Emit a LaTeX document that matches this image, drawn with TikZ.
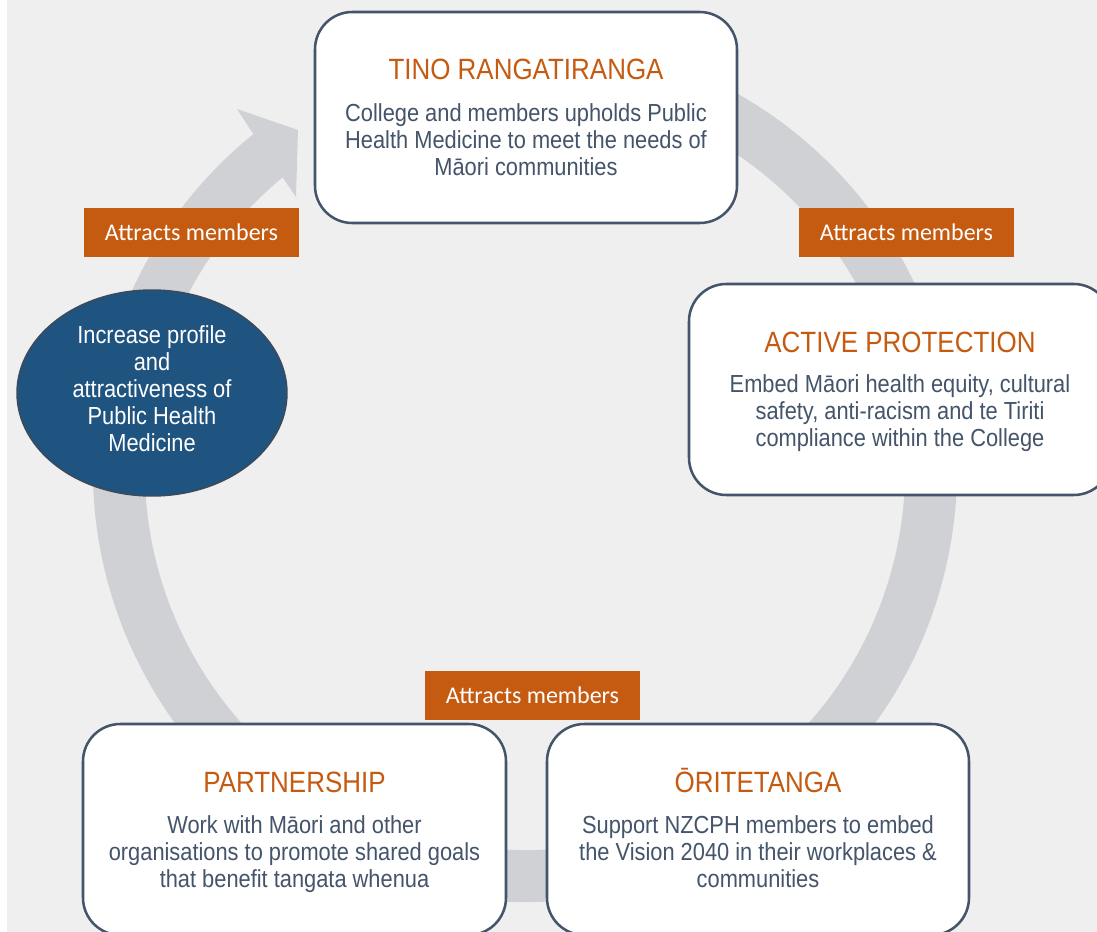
\documentclass[tikz,border=0pt]{standalone}
\usepackage{fontspec}
\setmainfont{Liberation Sans}
\newfontfamily\narrowfont{Liberation Sans}[FakeStretch=0.885]
\newfontfamily\calfont{Carlito}
\usetikzlibrary{shapes.geometric}
\definecolor{bgGray}{HTML}{EFEFEF}
\definecolor{ringGray}{HTML}{D0D1D5}
\definecolor{boxLine}{HTML}{44546A}
\definecolor{txtSlate}{HTML}{44546A}
\definecolor{titleOrange}{HTML}{C55A11}
\definecolor{ovalBlue}{HTML}{1F5380}
\definecolor{ovalLine}{HTML}{3D4A5C}
\begin{document}
\begin{tikzpicture}[x=0.75pt,y=0.75pt,
 panel/.style={draw=boxLine, line width=1.9pt, fill=white, rounded corners=28pt, inner sep=0pt},
 heading/.style={text=titleOrange, font=\narrowfont\fontsize{22}{26}\selectfont, anchor=base, inner sep=0pt},
 bodytext/.style={text=txtSlate, font=\narrowfont\fontsize{18.5}{20.25}\selectfont, align=center, anchor=north, inner sep=0pt},
 tag/.style={fill=titleOrange, text=white, font=\calfont\fontsize{18}{21}\selectfont, minimum width=161.25pt, minimum height=36.75pt, inner sep=0pt},
]
\useasboundingbox (0,0) rectangle (1097,-932);
\clip (0,0) rectangle (1097,-932);
\fill[white] (0,0) rectangle (1097,-932);
\fill[bgGray] (7,0) rectangle (1097,-932);
% circular arrow
\coordinate (ringC) at (525,-470);
\draw[ringGray, line width=39pt] ([shift={(75:304.5pt)}]ringC) arc[start angle=75, end angle=-231.5, radius=304.5pt];
\fill[ringGray] (252,-132) -- (237,-109) -- (298,-130) -- (296,-197) -- (281,-175) -- cycle;
% labels on the ring
\node[tag] (tagLeft) at (191.5,-232.5) {Attracts members};
\node[tag] (tagRight) at (906.5,-232.5) {Attracts members};
\node[tag] (tagBottom) at (532.5,-695.5) {Attracts members};
% TINO RANGATIRANGA
\node[panel, minimum width=316.5pt, minimum height=158.25pt] (tinoBox) at (526,-117.5) {};
\node[heading] (tinoHead) at (526,-79) {TINO RANGATIRANGA};
\node[bodytext] (tinoBody) at (526,-103) {College and members upholds Public\\Health Medicine to meet the needs of\\Māori communities};
% ACTIVE PROTECTION
\node[panel, minimum width=316.5pt, minimum height=158.25pt] (activeBox) at (900,-389.5) {};
\node[heading] (activeHead) at (900,-352) {ACTIVE PROTECTION};
\node[bodytext] (activeBody) at (900,-374.5) {Embed Māori health equity, cultural\\safety, anti-racism and te Tiriti\\compliance within the College};
% PARTNERSHIP
\node[panel, minimum width=317.25pt, minimum height=158.25pt] (partBox) at (294.5,-829.5) {};
\node[heading] (partHead) at (294.5,-792) {PARTNERSHIP};
\node[bodytext] (partBody) at (294.5,-815) {Work with Māori and other\\organisations to promote shared goals\\that benefit tangata whenua};
% ORITETANGA
\node[panel, minimum width=316.5pt, minimum height=158.25pt] (oriBox) at (758,-829.5) {};
\node[heading] (oriHead) at (758,-792) {ŌRITETANGA};
\node[bodytext] (oriBody) at (758,-815) {Support NZCPH members to embed\\the Vision 2040 in their workplaces \&\\communities};
% oval
\node[ellipse, draw=ovalLine, fill=ovalBlue, line width=1.1pt, minimum width=202.5pt, minimum height=154.5pt, inner sep=0pt] (oval) at (152,-393) {};
\node[bodytext, text=white] (ovalText) at (152,-325) {Increase profile\\and\\attractiveness of\\Public Health\\Medicine};
\end{tikzpicture}
\end{document}
